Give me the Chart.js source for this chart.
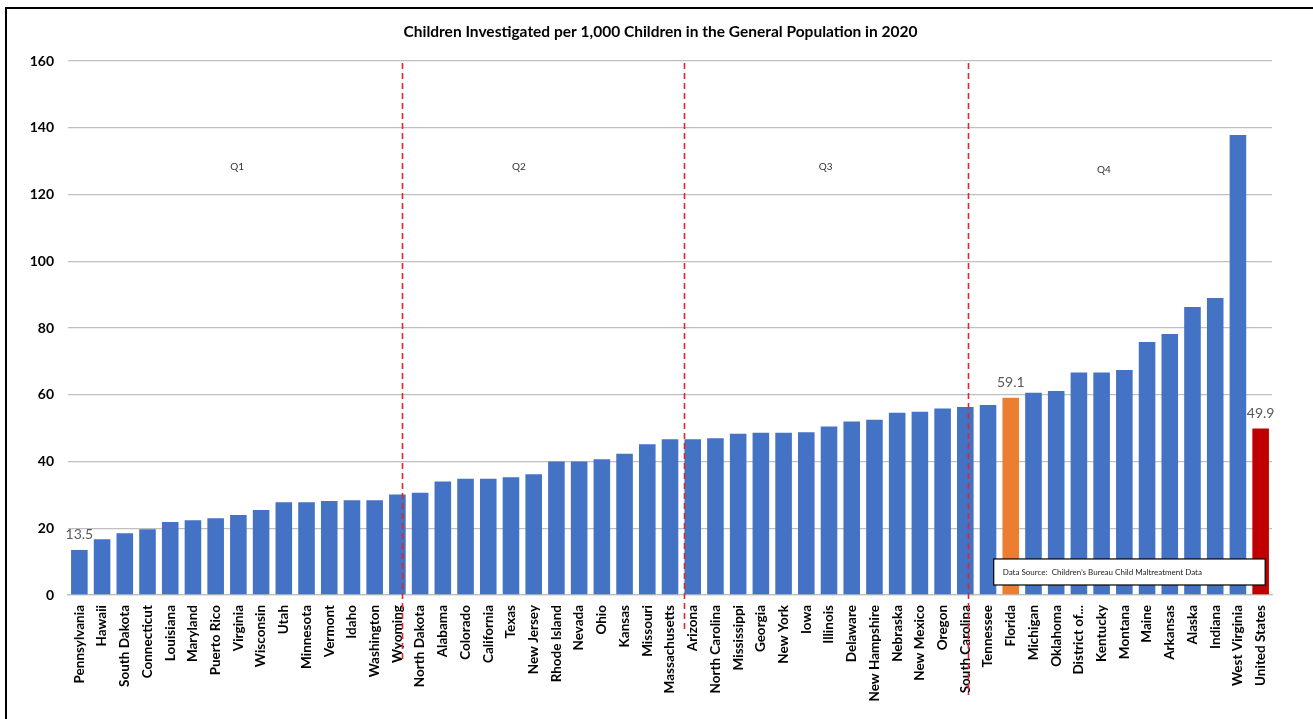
<!DOCTYPE html>
<html>
<head>
<meta charset="utf-8">
<title>Children Investigated per 1,000 Children</title>
<script src="https://cdn.jsdelivr.net/npm/chart.js@4.4.0/dist/chart.umd.min.js"></script>
<style>
  html, body { margin: 0; padding: 0; background: #fff; overflow: hidden; }
  #wrap { position: relative; width: 1313px; height: 719px; }
  #frame { position: absolute; left: 5px; top: 7px; right: 0; bottom: 0;
           border-left: 2px solid #000; border-top: 2px solid #000; pointer-events: none; }
</style>
</head>
<body>
<div id="wrap">
  <canvas id="chart" width="1313" height="719" style="width:1313px;height:719px"></canvas>
  <div id="frame"></div>
</div>
<script>
// categories, sorted low to high, US total last
const states = [
  'Pennsylvania', 'Hawaii', 'South Dakota', 'Connecticut', 'Louisiana', 'Maryland', 'Puerto Rico',
  'Virginia', 'Wisconsin', 'Utah', 'Minnesota', 'Vermont', 'Idaho', 'Washington', 'Wyoming',
  'North Dakota', 'Alabama', 'Colorado', 'California', 'Texas', 'New Jersey', 'Rhode Island',
  'Nevada', 'Ohio', 'Kansas', 'Missouri', 'Massachusetts', 'Arizona', 'North Carolina',
  'Mississippi', 'Georgia', 'New York', 'Iowa', 'Illinois', 'Delaware', 'New Hampshire',
  'Nebraska', 'New Mexico', 'Oregon', 'South Carolina', 'Tennessee', 'Florida', 'Michigan',
  'Oklahoma', 'District of...', 'Kentucky', 'Montana', 'Maine', 'Arkansas', 'Alaska', 'Indiana',
  'West Virginia', 'United States'
];

// children investigated per 1,000 children
const rates = [
  13.5, 16.7, 18.5, 19.7, 21.9, 22.4, 23.0,
  24.0, 25.5, 27.8, 27.8, 28.2, 28.4, 28.4, 30.1,
  30.6, 34.0, 34.8, 34.8, 35.3, 36.2, 40.0,
  40.0, 40.7, 42.3, 45.2, 46.7, 46.7, 47.0,
  48.3, 48.6, 48.6, 48.8, 50.5, 52.0, 52.5,
  54.6, 54.9, 55.9, 56.3, 56.9, 59.1, 60.6,
  61.1, 66.7, 66.7, 67.4, 75.8, 78.2, 86.3, 89.0,
  137.8, 49.9
];

const yTicks = [0, 20, 40, 60, 80, 100, 120, 140, 160];
const quartileNames = ['Q1', 'Q2', 'Q3', 'Q4'];
const labelledStates = ['Pennsylvania', 'Florida', 'United States'];
const chartTitle = 'Children Investigated per 1,000 Children in the General Population in 2020';
const sourceNote = 'Data Source:  Children\u2019s Bureau Child Maltreatment Data';

const FONT = 'Lato, "Liberation Sans", sans-serif';

const barColors = states.map(s => {
  if (s === 'Florida') return '#ED7D31';
  if (s === 'United States') return '#C00000';
  return '#4472C4';
});

// annotation layer: title, quartile dividers, Q labels, value labels, source box
const annotations = {
  id: 'annotations',
  afterDraw(chart) {
    const { ctx, scales: { x, y } } = chart;
    ctx.save();

    // title, centred on the whole picture (not on the padded chart)
    ctx.fillStyle = '#000';
    ctx.font = 'bold 15.5px ' + FONT;
    ctx.textAlign = 'center';
    ctx.textBaseline = 'middle';
    ctx.fillText(chartTitle, chart.width / 2 + 4, 32);

    // value labels above the highlighted bars
    ctx.fillStyle = '#595959';
    ctx.font = '14px ' + FONT;
    labelledStates.forEach(name => {
      const i = states.indexOf(name);
      ctx.fillText(rates[i].toFixed(1), x.getPixelForValue(i), y.getPixelForValue(rates[i]) - 15);
    });

    // quartile labels
    const qPos = [[6.95, 128.2], [19.35, 128.2], [32.85, 128.2], [45.1, 127.3]];
    ctx.fillStyle = '#333';
    ctx.font = '10px ' + FONT;
    quartileNames.forEach((q, i) => {
      ctx.fillText(q, x.getPixelForValue(qPos[i][0]), y.getPixelForValue(qPos[i][1]));
    });

    // dashed quartile dividers (hand placed in the original)
    const breaks = [14.21, 26.63, 39.12];
    const tails = [68, 35, 100];
    ctx.strokeStyle = '#E0262B';
    ctx.lineWidth = 1.6;
    ctx.setLineDash([6, 4]);
    breaks.forEach((b, i) => {
      const px = Math.round(x.getPixelForValue(b)) + 0.5;
      ctx.beginPath();
      ctx.moveTo(px, y.getPixelForValue(159.4));
      ctx.lineTo(px, y.bottom + tails[i]);
      ctx.stroke();
    });
    ctx.setLineDash([]);

    // data source box
    const bx0 = x.getPixelForValue(40.25), bx1 = x.getPixelForValue(52.2);
    const by0 = y.getPixelForValue(10.8), by1 = y.getPixelForValue(3.0);
    ctx.fillStyle = '#fff';
    ctx.fillRect(bx0, by0, bx1 - bx0, by1 - by0);
    ctx.strokeStyle = '#000';
    ctx.lineWidth = 1.2;
    ctx.strokeRect(bx0, by0, bx1 - bx0, by1 - by0);
    ctx.fillStyle = '#222';
    ctx.font = '8px ' + FONT;
    ctx.textAlign = 'left';
    ctx.fillText(sourceNote, bx0 + 9, (by0 + by1) / 2);

    ctx.restore();
  }
};

new Chart(document.getElementById('chart'), {
  type: 'bar',
  data: {
    labels: states,
    datasets: [{
      data: rates,
      backgroundColor: barColors,
      borderWidth: 0,
      barPercentage: 0.73,
      categoryPercentage: 1.0
    }]
  },
  options: {
    responsive: false,
    animation: false,
    layout: { padding: { left: 0, right: 41, top: 61, bottom: 0 } },
    plugins: {
      legend: { display: false },
      tooltip: { enabled: false },
      title: { display: false }
    },
    scales: {
      x: {
        grid: { display: false, drawTicks: false },
        border: { display: true, color: '#BFBFBF', width: 1.3 },
        ticks: {
          autoSkip: false,
          minRotation: 90,
          maxRotation: 90,
          padding: 10,
          color: '#000',
          font: { family: FONT, size: 13.5, weight: 'bold' }
        },
        afterFit(scale) { scale.height = 124; }
      },
      y: {
        min: 0,
        max: 160,
        afterBuildTicks(scale) { scale.ticks = yTicks.map(v => ({ value: v })); },
        grid: { color: '#BFBFBF', lineWidth: 1.3, drawTicks: false },
        border: { display: false },
        ticks: {
          padding: 14,
          color: '#000',
          font: { family: FONT, size: 14, weight: 'bold' }
        },
        afterFit(scale) { scale.width = 68; }
      }
    }
  },
  plugins: [annotations]
});
</script>
</body>
</html>
